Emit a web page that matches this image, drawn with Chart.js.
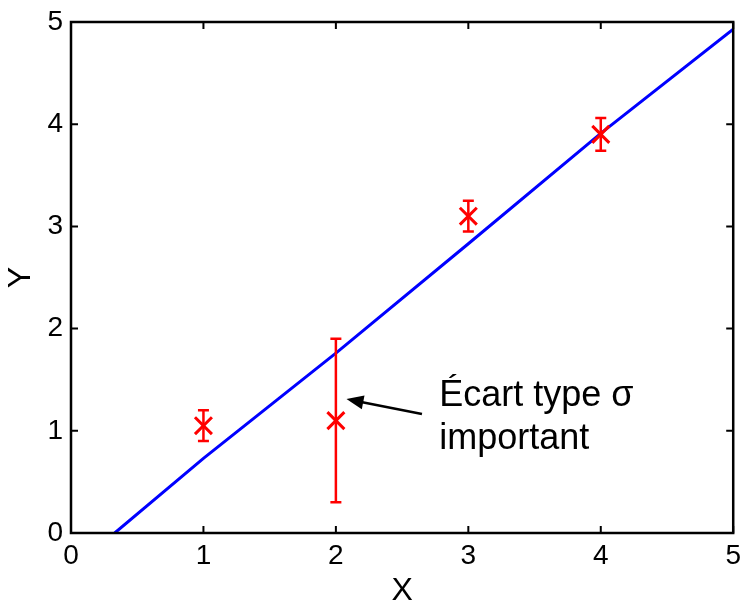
<!DOCTYPE html>
<html>
<head>
<meta charset="utf-8">
<script src="https://cdn.jsdelivr.net/npm/chart.js@4.4.1/dist/chart.umd.min.js"></script>
<style>
  html, body { margin: 0; padding: 0; background: #fff; }
  canvas { display: block; }
</style>
</head>
<body>
<canvas id="chart" width="750" height="606"></canvas>
<script>
// measured points (X, Y) with their standard deviation
const measX = [1, 2, 3, 4];
const measY = [1.05, 1.1, 3.1, 3.9];
const measSigma = [0.15, 0.8, 0.15, 0.16];

// fitted line
const fitX = [0.33, 1, 2, 3, 4, 5];
const fitY = [0, 0.73, 1.76, 2.83, 3.91, 4.93];

const tickValues = [0, 1, 2, 3, 4, 5];

const FONT = '"Liberation Sans", Arial, sans-serif';
const RED = '#ff0000';
const BLUE = '#0000ff';

// vertical error bars drawn through the scales
const errorBarPlugin = {
  id: 'errorBars',
  afterDatasetsDraw(chart) {
    const { ctx, scales } = chart;
    const xs = scales.x, ys = scales.y;
    ctx.save();
    ctx.strokeStyle = RED;
    ctx.lineWidth = 2.5;
    measX.forEach((x, i) => {
      const px = xs.getPixelForValue(x);
      const top = ys.getPixelForValue(measY[i] + measSigma[i]);
      const bot = ys.getPixelForValue(measY[i] - measSigma[i]);
      const cap = 5.5;
      ctx.beginPath();
      ctx.moveTo(px, top); ctx.lineTo(px, bot);
      ctx.moveTo(px - cap, top); ctx.lineTo(px + cap, top);
      ctx.moveTo(px - cap, bot); ctx.lineTo(px + cap, bot);
      ctx.stroke();
    });
    ctx.restore();
  }
};

// MATLAB-like box with inward ticks on every side + annotation
const framePlugin = {
  id: 'frame',
  afterDraw(chart) {
    const { ctx, chartArea: a, scales } = chart;
    const xs = scales.x, ys = scales.y;
    const tl = 7;
    ctx.save();
    ctx.strokeStyle = '#000';
    ctx.lineWidth = 2.5;
    ctx.strokeRect(a.left, a.top, a.right - a.left, a.bottom - a.top);
    ctx.lineWidth = 2;
    ctx.beginPath();
    tickValues.forEach(v => {
      const px = xs.getPixelForValue(v);
      ctx.moveTo(px, a.bottom); ctx.lineTo(px, a.bottom - tl);
      ctx.moveTo(px, a.top); ctx.lineTo(px, a.top + tl);
      const py = ys.getPixelForValue(v);
      ctx.moveTo(a.left, py); ctx.lineTo(a.left + tl, py);
      ctx.moveTo(a.right, py); ctx.lineTo(a.right - tl, py);
    });
    ctx.stroke();

    // arrow pointing at the large error bar
    const x0 = xs.getPixelForValue(2.65), y0 = ys.getPixelForValue(1.165);
    const x1 = xs.getPixelForValue(2.08), y1 = ys.getPixelForValue(1.31);
    const ang = Math.atan2(y1 - y0, x1 - x0);
    const hl = 17, hw = 7;
    ctx.lineWidth = 2.5;
    ctx.beginPath();
    ctx.moveTo(x0, y0);
    ctx.lineTo(x1 - Math.cos(ang) * hl * 0.8, y1 - Math.sin(ang) * hl * 0.8);
    ctx.stroke();
    ctx.fillStyle = '#000';
    ctx.beginPath();
    ctx.moveTo(x1, y1);
    ctx.lineTo(x1 - hl * Math.cos(ang) + hw * Math.sin(ang), y1 - hl * Math.sin(ang) - hw * Math.cos(ang));
    ctx.lineTo(x1 - hl * Math.cos(ang) - hw * Math.sin(ang), y1 - hl * Math.sin(ang) + hw * Math.cos(ang));
    ctx.closePath();
    ctx.fill();

    ctx.font = '36px ' + FONT;
    ctx.textAlign = 'left';
    ctx.textBaseline = 'alphabetic';
    const tx = xs.getPixelForValue(2.78);
    ctx.fillText('Écart type σ', tx, ys.getPixelForValue(1.24));
    ctx.fillText('important', tx, ys.getPixelForValue(0.82));
    ctx.restore();
  }
};

new Chart(document.getElementById('chart'), {
  type: 'scatter',
  plugins: [errorBarPlugin, framePlugin],
  data: {
    datasets: [
      {
        label: 'fit',
        data: fitX.map((x, i) => ({ x, y: fitY[i] })),
        showLine: true,
        borderColor: BLUE,
        borderWidth: 3,
        pointRadius: 0,
        tension: 0,
        order: 2
      },
      {
        label: 'mesures',
        data: measX.map((x, i) => ({ x, y: measY[i] })),
        pointStyle: 'crossRot',
        pointRadius: 12,
        borderColor: RED,
        backgroundColor: RED,
        borderWidth: 3,
        order: 1
      }
    ]
  },
  options: {
    responsive: false,
    animation: false,
    layout: { padding: { top: 18, right: 15, left: 0, bottom: 0 } },
    plugins: {
      legend: { display: false },
      tooltip: { enabled: false }
    },
    scales: {
      x: {
        type: 'linear',
        min: 0, max: 5,
        afterFit: s => { s.height = 73; },
        afterBuildTicks: s => { s.ticks = tickValues.map(v => ({ value: v })); },
        grid: { display: false, drawTicks: false },
        border: { display: false },
        ticks: { color: '#000', font: { family: FONT, size: 28, lineHeight: 1 }, padding: 9, maxRotation: 0 },
        title: { display: true, text: 'X', color: '#000', font: { family: FONT, size: 32, lineHeight: 1 }, padding: { top: 0, bottom: -1 } }
      },
      y: {
        type: 'linear',
        min: 0, max: 5,
        afterFit: s => { s.width = 71; },
        afterBuildTicks: s => { s.ticks = tickValues.map(v => ({ value: v })); },
        grid: { display: false, drawTicks: false },
        border: { display: false },
        ticks: { color: '#000', font: { family: FONT, size: 28, lineHeight: 1 }, padding: 8 },
        title: { display: true, text: 'Y', color: '#000', font: { family: FONT, size: 32, lineHeight: 1 }, padding: { top: 5, bottom: 0 } }
      }
    }
  }
});
</script>
</body>
</html>
